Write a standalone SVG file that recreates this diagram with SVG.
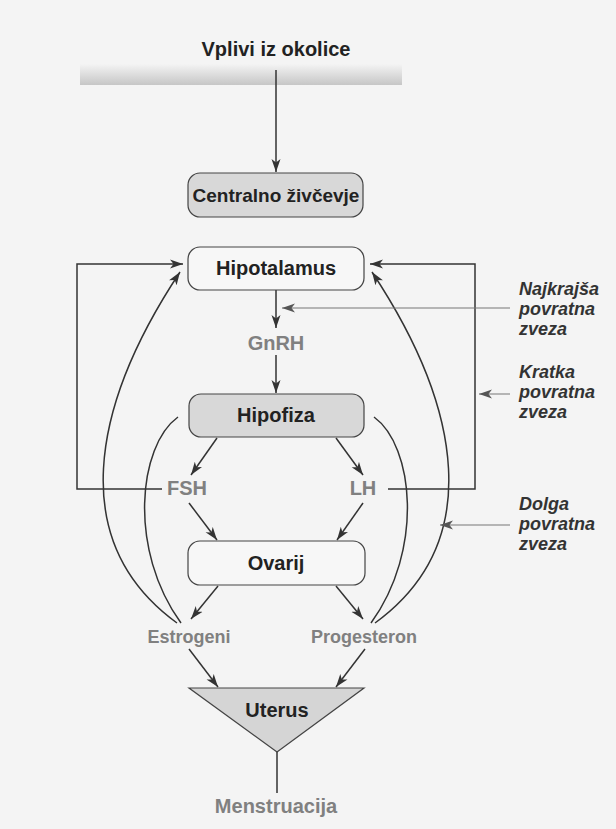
<svg xmlns="http://www.w3.org/2000/svg" width="616" height="829" viewBox="0 0 616 829">
<defs>
<linearGradient id="bar" x1="0" y1="0" x2="0" y2="1">
<stop offset="0" stop-color="#f4f4f4"/>
<stop offset="1" stop-color="#c6c6c6"/>
</linearGradient>
<marker id="ah" markerUnits="userSpaceOnUse" markerWidth="14" markerHeight="10" refX="13" refY="5" orient="auto">
<path d="M0,0.5 L13,5 L0,9.5 L3.5,5 Z" fill="#333"/>
</marker>
<marker id="ahg" markerUnits="userSpaceOnUse" markerWidth="14" markerHeight="10" refX="13" refY="5" orient="auto">
<path d="M0,0.5 L13,5 L0,9.5 L3.5,5 Z" fill="#555"/>
</marker>
<style>
.box{stroke:#444;stroke-width:1.2}
.gray{fill:#d8d8d8}
.white{fill:#f7f7f7}
.t{font-family:"Liberation Sans",Arial,sans-serif;font-weight:bold;text-anchor:middle;fill:#222}
.h{font-family:"Liberation Sans",Arial,sans-serif;font-weight:bold;text-anchor:middle;fill:#808080}
.side{font-family:"Liberation Sans",Arial,sans-serif;font-weight:bold;font-style:italic;font-size:18px;fill:#333}
.ln{fill:none;stroke:#333;stroke-width:1.5}
.gl{fill:none;stroke:#777;stroke-width:1}
</style>
</defs>
<rect width="616" height="829" fill="#f4f4f4"/>

<g id="okolica">
<rect x="80" y="64" width="322" height="21" fill="url(#bar)"/>
<text class="t" x="276" y="56" font-size="20">Vplivi iz okolice</text>
</g>

<g id="connectors">
<path class="ln" d="M276,70 V172" marker-end="url(#ah)"/>
<path class="ln" d="M276,290 V328" marker-end="url(#ah)"/>
<path class="ln" d="M276,355 V393" marker-end="url(#ah)"/>
<path class="ln" d="M217,438 L191,475" marker-end="url(#ah)"/>
<path class="ln" d="M336,438 L363,475" marker-end="url(#ah)"/>
<path class="ln" d="M189,503 L217,540" marker-end="url(#ah)"/>
<path class="ln" d="M363,503 L337,540" marker-end="url(#ah)"/>
<path class="ln" d="M218,586 L191,619" marker-end="url(#ah)"/>
<path class="ln" d="M336,586 L363,619" marker-end="url(#ah)"/>
<path class="ln" d="M189,649 L218,687" marker-end="url(#ah)"/>
<path class="ln" d="M365,649 L336,687" marker-end="url(#ah)"/>
<path class="ln" d="M277,752 V793"/>
<path class="ln" d="M162,489 H77 V264 H183" marker-end="url(#ah)"/>
<path class="ln" d="M388,489 H475 V264 H370" marker-end="url(#ah)"/>
<path class="ln" d="M177,623 C67,543 90,408 180,272" marker-end="url(#ah)"/>
<path class="ln" d="M375,623 C485,543 462,408 372,272" marker-end="url(#ah)"/>
<path class="ln" d="M178,417 C138,446 128,550 181,623"/>
<path class="ln" d="M374,417 C414,446 424,550 371,623"/>
<path class="gl" d="M510,308 H282" marker-end="url(#ahg)"/>
<path class="gl" d="M510,394 H479" marker-end="url(#ahg)"/>
<path class="gl" d="M510,525 H440" marker-end="url(#ahg)"/>
</g>

<g id="centralno">
<rect class="box gray" x="188" y="173" width="175" height="44" rx="12"/>
<text class="t" x="276" y="202" font-size="19">Centralno živčevje</text>
</g>
<g id="hipotalamus">
<rect class="box white" x="188" y="247" width="176" height="43" rx="12"/>
<text class="t" x="276" y="275" font-size="20">Hipotalamus</text>
</g>
<g id="gnrh"><text class="h" x="276" y="350" font-size="20">GnRH</text></g>
<g id="hipofiza">
<rect class="box gray" x="189" y="394" width="175" height="43" rx="12"/>
<text class="t" x="276" y="422" font-size="20">Hipofiza</text>
</g>
<g id="fsh"><text class="h" x="187" y="495" font-size="20">FSH</text></g>
<g id="lh"><text class="h" x="363" y="495" font-size="20">LH</text></g>
<g id="ovarij">
<rect class="box white" x="188" y="541" width="177" height="44" rx="12"/>
<text class="t" x="276" y="570" font-size="20">Ovarij</text>
</g>
<g id="estrogeni"><text class="h" x="189" y="643" font-size="18">Estrogeni</text></g>
<g id="progesteron"><text class="h" x="364" y="643" font-size="18">Progesteron</text></g>
<g id="uterus">
<path class="box" d="M189,688 H364 L277,752 Z" fill="#d5d5d5"/>
<text class="t" x="277" y="717" font-size="20">Uterus</text>
</g>
<g id="menstruacija"><text class="h" x="276" y="813" font-size="20">Menstruacija</text></g>

<g id="labels">
<text class="side" x="519" y="295">Najkrajša</text>
<text class="side" x="519" y="315">povratna</text>
<text class="side" x="519" y="335">zveza</text>
<text class="side" x="519" y="378">Kratka</text>
<text class="side" x="519" y="398">povratna</text>
<text class="side" x="519" y="418">zveza</text>
<text class="side" x="519" y="510">Dolga</text>
<text class="side" x="519" y="530">povratna</text>
<text class="side" x="519" y="550">zveza</text>
</g>
</svg>
